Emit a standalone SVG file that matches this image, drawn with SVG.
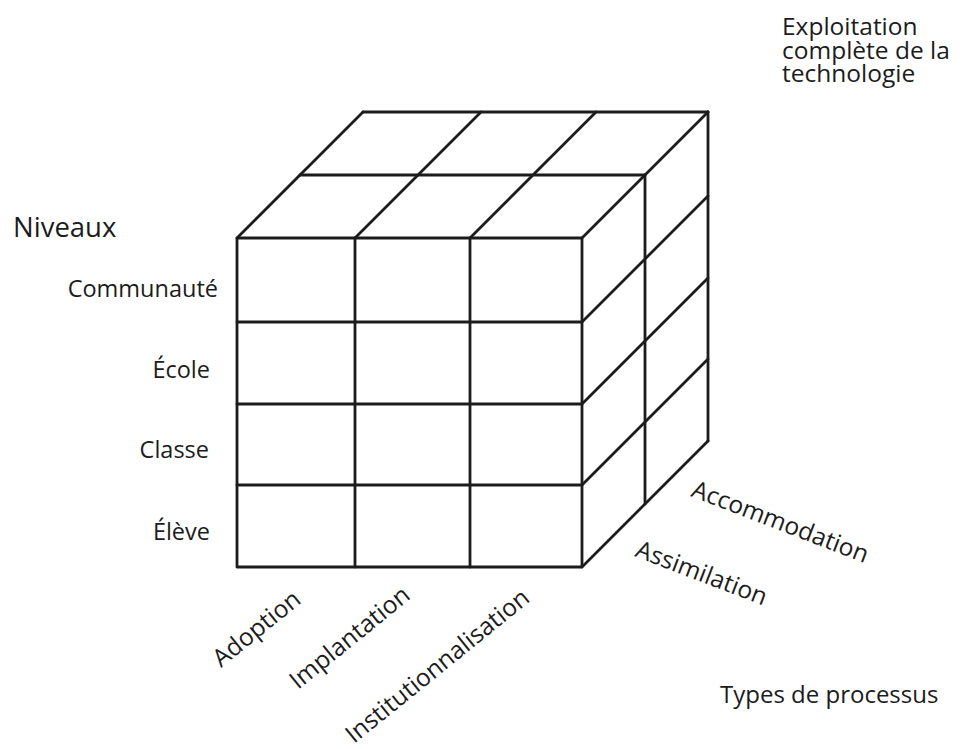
<svg xmlns="http://www.w3.org/2000/svg" width="977" height="749" viewBox="0 0 977 749">
<style>
  .ln { stroke: #1c1c1c; stroke-width: 2.8; fill: none; stroke-linecap: round; stroke-linejoin: round; }
  text { font-family: "Open Sans", "Noto Sans", "DejaVu Sans", sans-serif; fill: #1c1c1c; }
  .big { font-size: 24.5px; }
  .lvl { font-size: 23.5px; text-anchor: end; }
  .ax { font-size: 24.5px; }
</style>
<rect width="977" height="749" fill="#ffffff"/>
<g id="connectors">
  <g id="front-face">
    <rect class="ln" x="237" y="238" width="345" height="329"/>
    <line class="ln" x1="355" y1="238" x2="355" y2="567"/>
    <line class="ln" x1="470" y1="238" x2="470" y2="567"/>
    <line class="ln" x1="237" y1="322" x2="582" y2="322"/>
    <line class="ln" x1="237" y1="404" x2="582" y2="404"/>
    <line class="ln" x1="237" y1="485" x2="582" y2="485"/>
  </g>
  <g id="top-face">
    <line class="ln" x1="237" y1="238" x2="363" y2="112"/>
    <line class="ln" x1="355" y1="238" x2="481" y2="112"/>
    <line class="ln" x1="470" y1="238" x2="596" y2="112"/>
    <line class="ln" x1="582" y1="238" x2="708" y2="112"/>
    <line class="ln" x1="300" y1="175" x2="645" y2="175"/>
    <line class="ln" x1="363" y1="112" x2="708" y2="112"/>
  </g>
  <g id="right-face">
    <line class="ln" x1="645" y1="175" x2="645" y2="504"/>
    <line class="ln" x1="708" y1="112" x2="708" y2="441"/>
    <line class="ln" x1="582" y1="322" x2="708" y2="196"/>
    <line class="ln" x1="582" y1="404" x2="708" y2="278"/>
    <line class="ln" x1="582" y1="485" x2="708" y2="359"/>
    <line class="ln" x1="582" y1="567" x2="708" y2="441"/>
  </g>
</g>
<g id="title">
  <text class="big" x="782" y="35">Exploitation</text>
  <text class="big" x="782" y="58.5">complète de la</text>
  <text class="big" x="782" y="82">technologie</text>
</g>
<g id="niveaux">
  <text x="13" y="237" font-size="27.5">Niveaux</text>
</g>
<g id="levels">
  <text class="lvl" x="218" y="297">Communauté</text>
  <text class="lvl" x="210" y="378">École</text>
  <text class="lvl" x="209" y="458">Classe</text>
  <text class="lvl" x="210" y="540">Élève</text>
</g>
<g id="process-types">
  <text class="ax" transform="translate(221,668) rotate(-39)">Adoption</text>
  <text class="ax" transform="translate(298,690) rotate(-39)">Implantation</text>
  <text class="ax" transform="translate(354,744) rotate(-39)">Institutionnalisation</text>
</g>
<g id="depth-axis">
  <text class="ax" transform="translate(690,496) rotate(21)">Accommodation</text>
  <text class="ax" transform="translate(634,556) rotate(21)">Assimilation</text>
</g>
<g id="types-label">
  <text x="720" y="703" font-size="24">Types de processus</text>
</g>
</svg>
